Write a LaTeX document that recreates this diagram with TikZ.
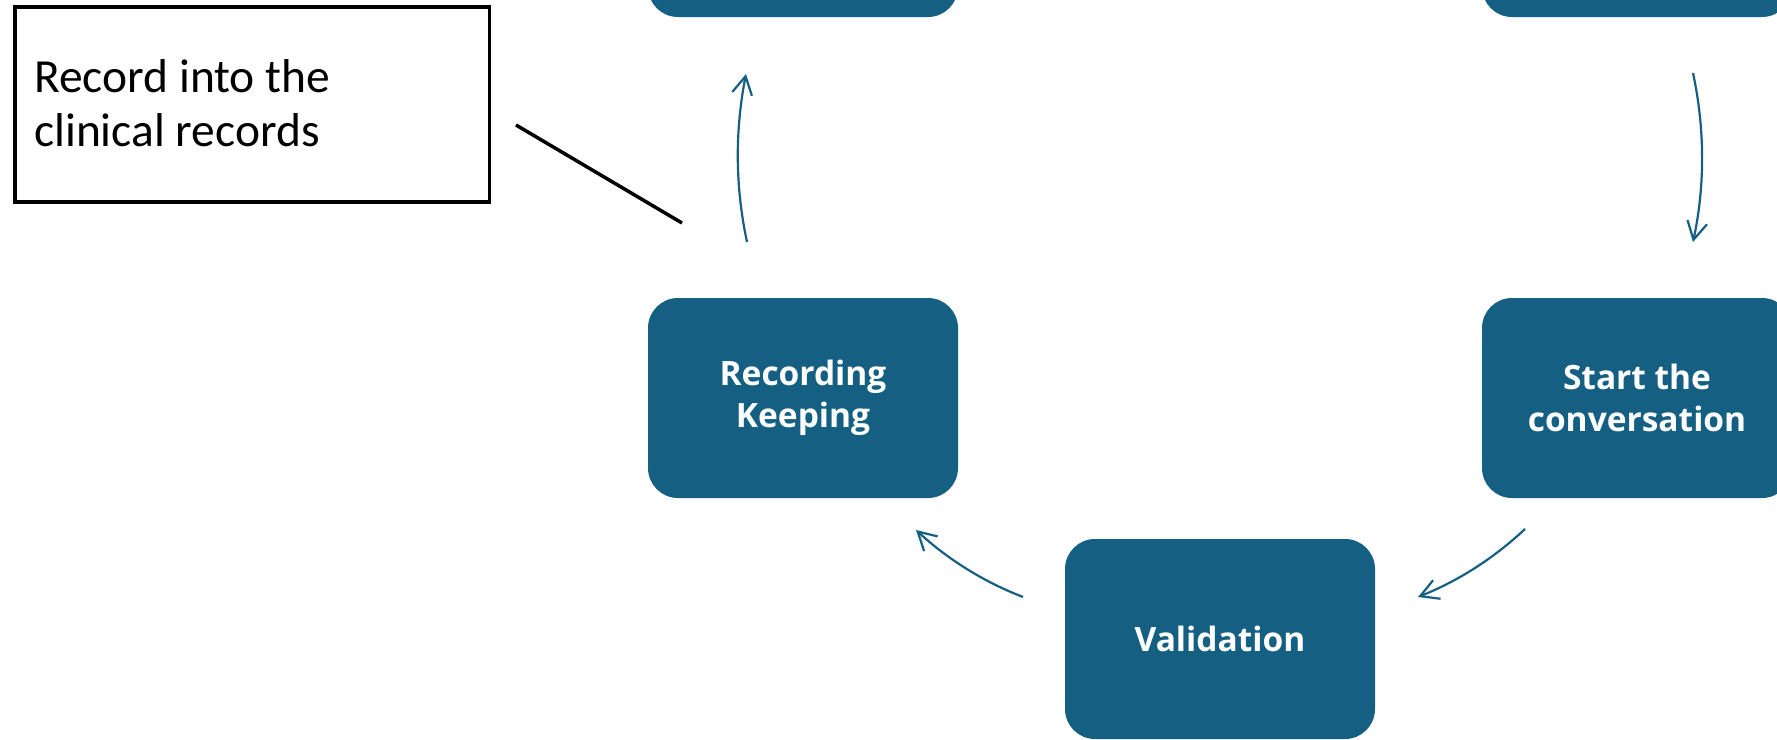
\documentclass[tikz,border=0pt]{standalone}
\usepackage{fontspec}
\setmainfont{Carlito}
\newfontfamily\boxfont{Open Sans}
\usetikzlibrary{arrows.meta}
\definecolor{stepblue}{HTML}{156082}
\begin{document}
\begin{tikzpicture}[x=1pt,y=-1pt,
  stepbox/.style={fill=stepblue, rounded corners=30pt, minimum width=310pt,
    minimum height=200pt, inner sep=0pt, text=white, align=center,
    font=\boxfont\bfseries\fontsize{33.5}{42}\selectfont},
  flow/.style={draw=stepblue, line width=2.2pt,
    -{Straight Barb[length=18pt,width=20pt]}},
  notebox/.style={draw=black, line width=3.8pt, minimum width=474.8pt,
    minimum height=194.7pt, inner sep=0pt},
  notetext/.style={inner sep=0pt, align=left,
    font=\fontsize{47.5}{54}\selectfont},
  leader/.style={draw=black, line width=3.5pt},
]
% canvas
\useasboundingbox (0,0) rectangle (1777,739);
\clip (0,0) rectangle (1777,739);
\fill[white] (0,0) rectangle (1777,739);

% process steps
\node[stepbox] (tl) at (803,-83) {};
\node[stepbox] (tr) at (1637,-83) {};
\node[stepbox] (rk) at (803,398) {Recording\\Keeping};
\node[stepbox] (sc) at (1637,398) {Start the\\conversation};
\node[stepbox] (va) at (1220,639) {Validation};

% cycle arrows
\coordinate (a1s) at (747,242);  \coordinate (a1e) at (746,74);
\coordinate (a2s) at (1693,73);  \coordinate (a2e) at (1693,242);
\coordinate (a3s) at (1525,529); \coordinate (a3e) at (1418,597);
\coordinate (a4s) at (1023,597); \coordinate (a4e) at (916,530);
\draw[flow] (a1s) .. controls (735,186) and (735,130) .. (a1e);
\draw[flow] (a2s) .. controls (1705,129) and (1705,186) .. (a2e);
\draw[flow] (a3s) .. controls (1493.6,558.5) and (1458,581) .. (a3e);
\draw[flow] (a4s) .. controls (983,581.5) and (947.4,559) .. (a4e);

% annotation (base anchor sits on the last line)
\node[notebox] (note) at (252.1,104.4) {};
\node[notetext, anchor=base west] (notetxt) at (34,146) {Record into the\\clinical records};
\coordinate (lead1) at (516,125);
\coordinate (lead2) at (682,223);
\draw[leader] (lead1) -- (lead2);
\end{tikzpicture}
\end{document}
